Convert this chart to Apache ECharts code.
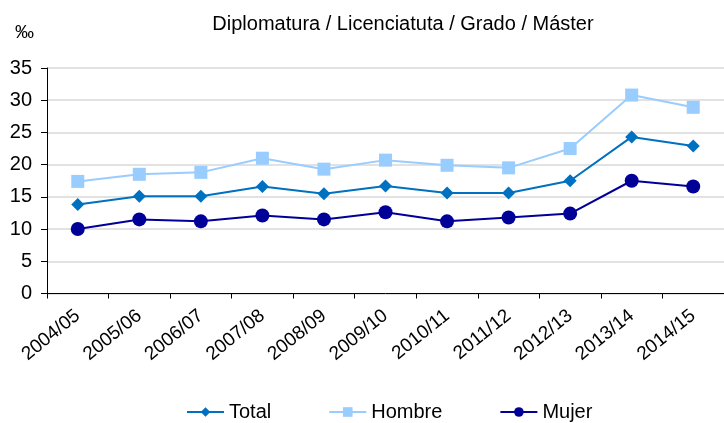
<!DOCTYPE html>
<html>
<head>
<meta charset="utf-8">
<script src="https://cdn.jsdelivr.net/npm/echarts@6/dist/echarts.min.js"></script>
<style>
  html, body { margin: 0; padding: 0; background: #fff; }
  #chart { width: 724px; height: 423px; }
</style>
</head>
<body>
<div id="chart"></div>
<script>
const years = ['2004/05', '2005/06', '2006/07', '2007/08', '2008/09', '2009/10',
  '2010/11', '2011/12', '2012/13', '2013/14', '2014/15'];
const total = [13.8, 15.1, 15.1, 16.6, 15.5, 16.7, 15.6, 15.6, 17.5, 24.3, 22.9];
const hombre = [17.4, 18.5, 18.8, 21.0, 19.3, 20.7, 19.9, 19.5, 22.5, 30.8, 28.9];
const mujer = [10.0, 11.5, 11.2, 12.1, 11.5, 12.6, 11.2, 11.8, 12.4, 17.5, 16.6];

const font = 'Liberation Sans, Arial, sans-serif';
const chart = echarts.init(document.getElementById('chart'), null, { renderer: 'canvas' });

const line = (name, data, color, symbol, size) => ({
  name,
  type: 'line',
  data,
  symbol,
  symbolSize: size,
  showAllSymbol: true,
  lineStyle: { color, width: 2 },
  itemStyle: { color },
  emphasis: { disabled: true },
  animation: false,
});

chart.setOption({
  backgroundColor: '#fff',
  textStyle: { fontFamily: font },
  title: [
    {
      text: 'Diplomatura / Licenciatuta / Grado / Máster',
      left: 398, top: 9, textAlign: 'center',
      textStyle: { fontFamily: font, fontSize: 20, fontWeight: 'normal', color: '#000' },
    },
    {
      text: '‰',
      left: 10, top: 18,
      textStyle: { fontFamily: font, fontSize: 19, fontWeight: 'normal', color: '#000' },
    },
  ],
  grid: { left: 47, top: 68, width: 684, height: 225.5 },
  xAxis: {
    type: 'category',
    data: years,
    boundaryGap: true,
    axisLine: { lineStyle: { color: '#000', width: 1 } },
    axisTick: { show: true, alignWithLabel: false, length: 5, lineStyle: { color: '#000' } },
    axisLabel: { rotate: 39, color: '#000', fontSize: 19, fontFamily: font, margin: 20 },
    splitLine: { show: false },
  },
  yAxis: {
    type: 'value',
    min: 0, max: 35, interval: 5,
    axisLine: { show: true, lineStyle: { color: '#000', width: 1 } },
    axisTick: { show: true, length: 6, lineStyle: { color: '#000' } },
    axisLabel: { color: '#000', fontSize: 20, fontFamily: font, margin: 15 },
    splitLine: { lineStyle: { color: '#d9d9d9', width: 1.5 } },
  },
  legend: {
    top: 397,
    left: 181,
    itemWidth: 37,
    itemHeight: 12,
    itemGap: 57,
    textStyle: { fontFamily: font, fontSize: 20, color: '#000' },
    data: ['Total', 'Hombre', 'Mujer'],
  },
  series: [
    line('Total', total, '#0070c0', 'diamond', 13),
    line('Hombre', hombre, '#99ccff', 'rect', 13),
    line('Mujer', mujer, '#000099', 'circle', 14),
  ],
});
</script>
</body>
</html>
